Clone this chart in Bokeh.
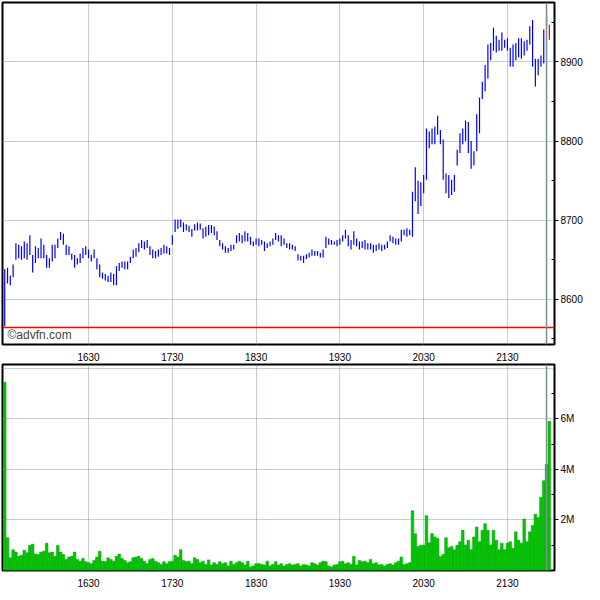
from bokeh.plotting import figure
from bokeh.layouts import column
from bokeh.models import Range1d, FixedTicker, Span, Label, ColumnDataSource
from bokeh.embed import file_html
from bokeh.resources import INLINE

# ---------------- data (2-minute bars from 15:30) ----------------
bar_minutes = 2
highs = [8638, 8640, 8630, 8644, 8671, 8669, 8667, 8673, 8671, 8681,
         8656, 8667, 8665, 8677, 8669, 8656, 8652, 8669, 8669, 8677,
         8685, 8683, 8669, 8667, 8658, 8656, 8652, 8658, 8665, 8667,
         8663, 8656, 8663, 8652, 8644, 8634, 8632, 8630, 8634, 8632,
         8642, 8646, 8648, 8648, 8648, 8654, 8663, 8665, 8671, 8675,
         8673, 8675, 8667, 8663, 8661, 8663, 8665, 8669, 8667, 8665,
         8681, 8701, 8701, 8701, 8697, 8695, 8693, 8689, 8695, 8697,
         8696, 8690, 8692, 8694, 8694, 8692, 8686, 8675, 8671, 8667,
         8665, 8669, 8669, 8681, 8684, 8681, 8686, 8684, 8679, 8673,
         8677, 8677, 8675, 8673, 8671, 8673, 8677, 8684, 8681, 8681,
         8677, 8671, 8671, 8669, 8667, 8657, 8655, 8655, 8657, 8659,
         8663, 8661, 8661, 8659, 8663, 8679, 8677, 8675, 8673, 8675,
         8677, 8681, 8688, 8681, 8675, 8686, 8677, 8673, 8673, 8675,
         8671, 8671, 8669, 8669, 8671, 8669, 8669, 8673, 8681, 8679,
         8677, 8677, 8688, 8688, 8690, 8688, 8736, 8767, 8750, 8748,
         8757, 8816, 8812, 8816, 8818, 8832, 8814, 8802, 8759, 8757,
         8751, 8757, 8789, 8810, 8816, 8826, 8824, 8800, 8787, 8834,
         8855, 8875, 8896, 8922, 8924, 8943, 8933, 8928, 8937, 8928,
         8930, 8918, 8922, 8924, 8930, 8930, 8926, 8928, 8945, 8953,
         8904, 8904, 8908, 8941, 8959, 8947]
lows = [8566, 8620, 8618, 8628, 8650, 8652, 8650, 8652, 8650, 8656,
        8634, 8646, 8652, 8652, 8652, 8640, 8640, 8648, 8652, 8665,
        8675, 8669, 8656, 8656, 8650, 8640, 8644, 8646, 8652, 8656,
        8652, 8648, 8652, 8638, 8628, 8626, 8624, 8622, 8622, 8618,
        8618, 8636, 8640, 8638, 8638, 8646, 8652, 8654, 8660, 8665,
        8663, 8665, 8656, 8652, 8652, 8654, 8656, 8658, 8658, 8656,
        8669, 8685, 8689, 8691, 8685, 8687, 8685, 8679, 8687, 8687,
        8688, 8677, 8679, 8681, 8684, 8681, 8675, 8667, 8663, 8659,
        8659, 8661, 8663, 8671, 8673, 8671, 8673, 8673, 8669, 8667,
        8669, 8667, 8669, 8661, 8665, 8667, 8669, 8675, 8673, 8667,
        8669, 8665, 8663, 8663, 8661, 8649, 8649, 8646, 8651, 8653,
        8655, 8655, 8655, 8653, 8653, 8665, 8669, 8669, 8669, 8667,
        8669, 8673, 8677, 8667, 8663, 8669, 8667, 8663, 8665, 8663,
        8663, 8663, 8659, 8661, 8663, 8661, 8663, 8665, 8673, 8671,
        8669, 8669, 8673, 8681, 8679, 8681, 8679, 8724, 8708, 8718,
        8734, 8751, 8791, 8796, 8796, 8808, 8796, 8751, 8734, 8728,
        8732, 8736, 8769, 8785, 8796, 8800, 8785, 8765, 8769, 8787,
        8810, 8853, 8863, 8879, 8902, 8914, 8912, 8914, 8914, 8918,
        8914, 8894, 8894, 8902, 8906, 8904, 8908, 8914, 8922, 8894,
        8869, 8883, 8894, 8898, 8945, 8928]
volumes_m = [7.45, 1.3, 0.5, 0.82, 0.73, 0.56, 0.6, 0.8, 0.7, 1.0,
             1.04, 0.65, 0.63, 0.73, 0.76, 1.08, 0.7, 0.73, 0.56, 0.99,
             0.73, 0.63, 0.44, 0.53, 0.56, 0.73, 0.44, 0.37, 0.47, 0.35,
             0.31, 0.27, 0.4, 0.53, 0.76, 0.37, 0.35, 0.5, 0.44, 0.37,
             0.56, 0.65, 0.47, 0.4, 0.31, 0.35, 0.5, 0.53, 0.56, 0.47,
             0.37, 0.27, 0.44, 0.47, 0.37, 0.31, 0.24, 0.35, 0.27, 0.35,
             0.37, 0.6, 0.53, 0.82, 0.4, 0.35, 0.37, 0.27, 0.5, 0.44,
             0.31, 0.37, 0.24, 0.42, 0.22, 0.31, 0.24, 0.35, 0.27, 0.31,
             0.18, 0.37, 0.24, 0.31, 0.37, 0.31, 0.22, 0.37, 0.14, 0.18,
             0.27, 0.27, 0.24, 0.22, 0.37, 0.18, 0.24, 0.35, 0.22, 0.27,
             0.18, 0.24, 0.27, 0.22, 0.24, 0.27, 0.18, 0.24, 0.22, 0.18,
             0.31, 0.27, 0.22, 0.31, 0.37, 0.35, 0.18, 0.14, 0.22, 0.24,
             0.35, 0.37, 0.27, 0.31, 0.24, 0.56, 0.22, 0.4, 0.35, 0.37,
             0.31, 0.44, 0.27, 0.31, 0.22, 0.24, 0.18, 0.24, 0.27, 0.22,
             0.31, 0.37, 0.53, 0.24, 0.27, 0.31, 2.36, 1.45, 0.95, 1.0,
             1.0, 2.17, 1.1, 1.46, 1.33, 1.27, 0.55, 0.63, 1.3, 0.9,
             0.95, 0.82, 1.0, 1.14, 1.59, 1.01, 1.2, 0.82, 1.33, 1.72,
             1.14, 1.59, 1.85, 1.59, 1.01, 1.59, 1.2, 0.82, 1.08, 0.82,
             1.08, 1.14, 0.88, 1.53, 1.2, 1.08, 2.04, 1.14, 1.53, 1.78,
             2.23, 2.1, 2.9, 3.55, 4.2, 5.9]
bar_colors = ["#0000ff"] * (len(highs) - 1) + ["#ff0000"]
prev_close = 8564.5
last_mark = 388            # minutes after 15:30
xtick_pos = [60, 120, 180, 240, 300, 360]
xtick_labels = ["1630", "1730", "1830", "1930", "2030", "2130"]
price_ticks = [8600, 8700, 8800, 8900]
price_minor = [8550, 8650, 8750, 8850, 8950]
vol_ticks = [2, 4, 6]
vol_labels = ["2M", "4M", "6M"]
vol_minor = [1, 3, 5, 7]
vol_grid = [2, 4, 6, 8]

times = [i * bar_minutes for i in range(len(highs))]
src = ColumnDataSource(dict(t=times, hi=highs, lo=lows, vol=volumes_m, c=bar_colors))

FONT = "Liberation Sans"
GRID = "#8f9c9c"
FW = 552
XR = (-1.6, 393.7)


def style(p, yticks, yminor, ylabels=None, gridticks=None):
    p.outline_line_color = "black"
    p.outline_line_width = 2
    p.xaxis.ticker = FixedTicker(ticks=xtick_pos)
    p.xaxis.major_label_overrides = dict(zip(xtick_pos, xtick_labels))
    p.xaxis.axis_line_color = None
    p.xaxis.major_tick_line_color = None
    p.xaxis.minor_tick_line_color = None
    p.xaxis.major_label_standoff = 2
    p.yaxis.ticker = FixedTicker(ticks=yticks, minor_ticks=yminor)
    if ylabels:
        p.yaxis.major_label_overrides = dict(zip(yticks, ylabels))
    p.yaxis.axis_line_color = None
    p.yaxis.major_tick_out = 4
    p.yaxis.major_tick_in = 0
    p.yaxis.minor_tick_in = 3
    p.yaxis.minor_tick_out = 0
    p.yaxis.major_tick_line_color = "black"
    p.yaxis.minor_tick_line_color = "black"
    p.yaxis.major_label_standoff = 2
    for ax in (p.xaxis, p.yaxis):
        ax.major_label_text_font = FONT
        ax.major_label_text_font_size = "10px"
        ax.major_label_text_color = "black"
    p.xgrid.ticker = FixedTicker(ticks=xtick_pos)
    p.ygrid.ticker = FixedTicker(ticks=gridticks or yticks)
    for g in (p.xgrid, p.ygrid):
        g.grid_line_color = GRID
        g.grid_line_dash = "1 1"
        g.grid_line_width = 1


# ---------------- price panel ----------------
p1 = figure(frame_width=FW, frame_height=342, x_range=Range1d(*XR),
            y_range=Range1d(8543, 8975), y_axis_location="right",
            output_backend="svg", toolbar_location=None,
            min_border_left=2, min_border_top=2, min_border_right=0,
            min_border_bottom=0)
style(p1, price_ticks, price_minor)
p1.add_layout(Span(location=prev_close, dimension="width",
                   line_color="#ff0000", line_width=1.5))
p1.add_layout(Span(location=last_mark, dimension="height",
                   line_color="#7a9090", line_width=1.5))
p1.segment(x0="t", y0="lo", x1="t", y1="hi", line_color="c",
           line_width=1.2, source=src)
p1.add_layout(Label(x=2, y=8546, text="\u00a9advfn.com", text_font=FONT,
                    text_font_size="12px", text_color="#444444",
                    text_baseline="bottom"))

# ---------------- volume panel ----------------
p2 = figure(frame_width=FW, frame_height=206, x_range=Range1d(*XR),
            y_range=Range1d(0, 8.15), y_axis_location="right",
            output_backend="svg", toolbar_location=None,
            min_border_left=2, min_border_top=1, min_border_right=0,
            min_border_bottom=0)
style(p2, vol_ticks, vol_minor, vol_labels, vol_grid)
p2.add_layout(Span(location=last_mark, dimension="height",
                   line_color="#7a9090", line_width=1.5))
p2.vbar(x="t", top="vol", bottom=0, width=1.9, fill_color="#00c800",
        line_color="#009a00", line_width=0.5, source=src)

layout = column(p1, p2, spacing=0)
open("out.html", "w").write(file_html(layout, INLINE))
